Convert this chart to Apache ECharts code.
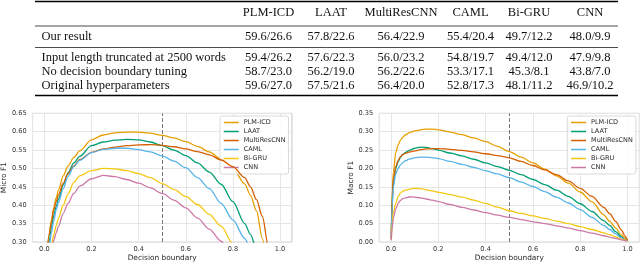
<!DOCTYPE html>
<html>
<head>
<meta charset="utf-8">
<script src="https://cdn.jsdelivr.net/npm/echarts@6/dist/echarts.min.js"></script>
<style>
html,body{margin:0;padding:0;background:#fff;}
#chart{width:640px;height:266px;}
</style>
</head>
<body>
<div id="chart"></div>
<script>
// ---------- table data ----------
const colLabels = ['PLM-ICD', 'LAAT', 'MultiResCNN', 'CAML', 'Bi-GRU', 'CNN'];
const rowLabels = ['Our result', 'Input length truncated at 2500 words', 'No decision boundary tuning', 'Original hyperparameters'];
const rowOur = ['59.6/26.6', '57.8/22.6', '56.4/22.9', '55.4/20.4', '49.7/12.2', '48.0/9.9'];
const rowTrunc = ['59.4/26.2', '57.6/22.3', '56.0/23.2', '54.8/19.7', '49.4/12.0', '47.9/9.8'];
const rowNoTune = ['58.7/23.0', '56.2/19.0', '56.2/22.6', '53.3/17.1', '45.3/8.1', '43.8/7.0'];
const rowOrig = ['59.6/27.0', '57.5/21.6', '56.4/20.0', '52.8/17.3', '48.1/11.2', '46.9/10.2'];

// ---------- chart data ----------
const models = ['PLM-ICD', 'LAAT', 'MultiResCNN', 'CAML', 'Bi-GRU', 'CNN'];
const xTickLabels = ['0.0', '0.2', '0.4', '0.6', '0.8', '1.0'];
const microYTicks = ['0.30', '0.35', '0.40', '0.45', '0.50', '0.55', '0.60', '0.65'];
const macroYTicks = ['0.00', '0.05', '0.10', '0.15', '0.20', '0.25', '0.30', '0.35'];
const boundaryDefault = 0.5;

const microX = [0.01,0.02,0.03,0.04,0.05,0.06,0.08,0.10,0.125,0.15,0.2,0.25,0.3,0.35,0.4,0.45,0.5,0.55,0.6,0.65,0.7,0.75,0.8,0.85,0.875,0.9,0.925,0.95,0.975];
const microPLM   = [0.24,0.318,0.36,0.394,0.42,0.442,0.48,0.506,0.53,0.548,0.578,0.591,0.597,0.599,0.599,0.596,0.590,0.583,0.573,0.560,0.545,0.526,0.500,0.458,0.427,0.385,0.31,0.22,0.12];
const microLAAT  = [0.23,0.30,0.34,0.372,0.396,0.417,0.455,0.488,0.515,0.533,0.562,0.572,0.577,0.579,0.578,0.572,0.562,0.55,0.535,0.515,0.49,0.457,0.41,0.35,0.32,0.28,0.22,0.15,0.08];
const microMRC   = [0.26,0.32,0.355,0.388,0.41,0.428,0.46,0.485,0.507,0.524,0.544,0.553,0.558,0.562,0.564,0.565,0.563,0.559,0.553,0.546,0.537,0.523,0.505,0.475,0.45,0.415,0.37,0.29,0.18];
const microCAML  = [0.2,0.285,0.325,0.358,0.387,0.408,0.445,0.478,0.505,0.522,0.543,0.552,0.555,0.555,0.551,0.545,0.534,0.52,0.502,0.475,0.445,0.405,0.36,0.31,0.28,0.24,0.2,0.15,0.1];
const microBiGRU = [0.1,0.2,0.29,0.32,0.345,0.365,0.40,0.43,0.462,0.48,0.494,0.5,0.499,0.494,0.486,0.475,0.459,0.443,0.424,0.402,0.375,0.343,0.295,0.22,0.18,0.14,0.1,0.06,0.03];
const microCNN   = [0.08,0.18,0.27,0.305,0.325,0.343,0.378,0.405,0.432,0.452,0.472,0.481,0.478,0.47,0.46,0.447,0.432,0.414,0.393,0.365,0.335,0.302,0.26,0.2,0.17,0.13,0.09,0.05,0.02];

const macroX = [0.001,0.005,0.01,0.02,0.03,0.04,0.05,0.06,0.08,0.10,0.125,0.15,0.175,0.2,0.25,0.3,0.35,0.4,0.45,0.5,0.55,0.6,0.65,0.7,0.75,0.8,0.85,0.9,0.925,0.95,0.975,0.99,1.0];
const macroPLM   = [0.01,0.14,0.19,0.243,0.264,0.277,0.285,0.291,0.298,0.302,0.305,0.307,0.307,0.305,0.299,0.292,0.283,0.273,0.26,0.246,0.231,0.215,0.198,0.180,0.160,0.136,0.109,0.074,0.056,0.038,0.019,0.009,0.004];
const macroLAAT  = [0.01,0.11,0.16,0.20,0.218,0.23,0.238,0.243,0.25,0.255,0.258,0.257,0.254,0.25,0.242,0.234,0.225,0.215,0.205,0.195,0.183,0.17,0.156,0.141,0.124,0.104,0.083,0.058,0.045,0.028,0.014,0.006,0.003];
const macroMRC   = [0.01,0.12,0.17,0.205,0.222,0.232,0.238,0.241,0.245,0.248,0.251,0.253,0.254,0.254,0.252,0.249,0.245,0.240,0.235,0.229,0.219,0.208,0.196,0.183,0.166,0.146,0.124,0.094,0.077,0.056,0.032,0.015,0.004];
const macroCAML  = [0.01,0.1,0.15,0.185,0.2,0.21,0.216,0.221,0.226,0.229,0.231,0.231,0.229,0.227,0.219,0.211,0.203,0.194,0.185,0.175,0.163,0.151,0.137,0.122,0.106,0.088,0.067,0.045,0.034,0.022,0.011,0.005,0.003];
const macroBiGRU = [0.005,0.05,0.08,0.105,0.124,0.133,0.138,0.141,0.144,0.146,0.145,0.142,0.139,0.135,0.129,0.122,0.114,0.105,0.095,0.085,0.078,0.071,0.064,0.057,0.05,0.042,0.034,0.025,0.02,0.014,0.008,0.005,0.003];
const macroCNN   = [0.005,0.04,0.065,0.09,0.105,0.113,0.118,0.12,0.123,0.122,0.12,0.117,0.114,0.11,0.102,0.094,0.087,0.08,0.073,0.067,0.061,0.055,0.05,0.044,0.038,0.031,0.024,0.017,0.013,0.01,0.006,0.004,0.002];

const microSeries = [microPLM, microLAAT, microMRC, microCAML, microBiGRU, microCNN];
const macroSeries = [macroPLM, macroLAAT, macroMRC, macroCAML, macroBiGRU, macroCNN];

// ---------- styles / layout ----------
const colors = ['#E69F00', '#009E73', '#D55E00', '#56B4E9', '#F5C710', '#CC79A7'];
const tableFont = '"Liberation Serif", "Times New Roman", serif';
const plotFont = '"DejaVu Sans", sans-serif';
const tblColX = [268.5, 331, 401, 470.5, 529, 590];
const tblLeft = 41.5;
const tblRule = {x1: 35, x2: 618};
const tblHeaderY = 13;
const tblRowY = [37, 57.5, 71.5, 85.5];
const tblRules = [{y: 1.5, w: 1.3}, {y: 26, w: 0.7}, {y: 47.5, w: 0.7}, {y: 95.5, w: 1.3}];

const graphics = [];
tblRules.forEach(r => graphics.push({type: 'line', shape: {x1: tblRule.x1, y1: r.y, x2: tblRule.x2, y2: r.y}, style: {stroke: '#000', lineWidth: r.w}, silent: true}));
colLabels.forEach((c, i) => graphics.push({type: 'text', x: tblColX[i], y: tblHeaderY, style: {text: c, fill: '#111', font: '12.5px ' + tableFont, textAlign: 'center', textVerticalAlign: 'middle'}, silent: true}));
const tableRows = [rowOur, rowTrunc, rowNoTune, rowOrig];
rowLabels.forEach((r, j) => {
  graphics.push({type: 'text', x: tblLeft, y: tblRowY[j], style: {text: r, fill: '#111', font: '12.5px ' + tableFont, textAlign: 'left', textVerticalAlign: 'middle'}, silent: true});
  tableRows[j].forEach((v, i) => graphics.push({type: 'text', x: tblColX[i], y: tblRowY[j], style: {text: v, fill: '#111', font: '12.5px ' + tableFont, textAlign: 'center', textVerticalAlign: 'middle'}, silent: true}));
});

const tickFS = 6.6, nameFS = 7.4;
function xAxisCfg(gi) {
  return {
    type: 'value', gridIndex: gi, min: -0.05, max: 1.05, splitNumber: 5,
    name: 'Decision boundary', nameLocation: 'middle', nameGap: 13,
    nameTextStyle: {fontSize: nameFS, color: '#262626', fontFamily: plotFont},
    axisLine: {show: false}, axisTick: {show: false},
    axisLabel: {margin: 4, fontSize: tickFS, color: '#333', fontFamily: plotFont, showMinLabel: false, showMaxLabel: false,
      formatter: v => { const s = v.toFixed(1); return xTickLabels.indexOf(s) >= 0 ? s : ''; }},
    splitLine: {show: true, lineStyle: {color: '#e6e6e6', width: 1}}
  };
}
function yAxisCfg(gi, name, min, max, ticks) {
  return {
    type: 'value', gridIndex: gi, min: min, max: max, interval: 0.05,
    name: name, nameLocation: 'middle', nameGap: 22,
    nameTextStyle: {fontSize: nameFS, color: '#262626', fontFamily: plotFont},
    axisLine: {show: false}, axisTick: {show: false},
    axisLabel: {margin: 6, fontSize: tickFS, color: '#333', fontFamily: plotFont,
      formatter: v => { const s = v.toFixed(2); return ticks.indexOf(s) >= 0 ? s : ''; }},
    splitLine: {show: true, lineStyle: {color: '#e6e6e6', width: 1}}
  };
}

const series = [];
function addSeries(xs, arrs, gi) {
  arrs.forEach((vals, k) => {
    const s = {
      type: 'line', name: models[k], xAxisIndex: gi, yAxisIndex: gi,
      data: xs.map((x, i) => [x, vals[i]]),
      symbol: 'none', showSymbol: false, smooth: 0.3, smoothMonotone: 'x',
      lineStyle: {width: 1.3, color: colors[k]}, itemStyle: {color: colors[k]},
      clip: true, z: 3 + k
    };
    if (k === 0) {
      s.markLine = {silent: true, symbol: 'none', label: {show: false},
        lineStyle: {color: '#7a7a7a', type: [4, 2], width: 1}, data: [{xAxis: boundaryDefault}], z: 2};
    }
    series.push(s);
  });
}
addSeries(microX, microSeries, 0);
addSeries(macroX, macroSeries, 1);

function legendCfg(left) {
  return {
    data: models, orient: 'vertical', left: left, top: 116,
    itemWidth: 15, itemHeight: 8, itemGap: 2, padding: [3, 3, 3, 3],
    itemStyle: {opacity: 0},
    lineStyle: {width: 1.5},
    backgroundColor: 'rgba(255,255,255,0.85)', borderColor: '#d0d0d0', borderWidth: 0.8, borderRadius: 2,
    textStyle: {fontSize: 6.5, color: '#262626', fontFamily: plotFont}, selectedMode: false
  };
}

const chart = echarts.init(document.getElementById('chart'), null, {renderer: 'canvas'});
chart.setOption({
  animation: false,
  backgroundColor: '#fff',
  grid: [
    {left: 32.2, top: 113.3, width: 259.6, height: 128.7, show: true, borderColor: '#d2d2d2', borderWidth: 1, backgroundColor: 'transparent'},
    {left: 379.2, top: 113.3, width: 260.1, height: 128.7, show: true, borderColor: '#d2d2d2', borderWidth: 1, backgroundColor: 'transparent'}
  ],
  xAxis: [xAxisCfg(0), xAxisCfg(1)],
  yAxis: [yAxisCfg(0, 'Micro F1', 0.3, 0.65, microYTicks), yAxisCfg(1, 'Macro F1', 0, 0.35, macroYTicks)],
  legend: [legendCfg(220), legendCfg(567.3)],
  series: series,
  graphic: graphics
});
</script>
</body>
</html>
